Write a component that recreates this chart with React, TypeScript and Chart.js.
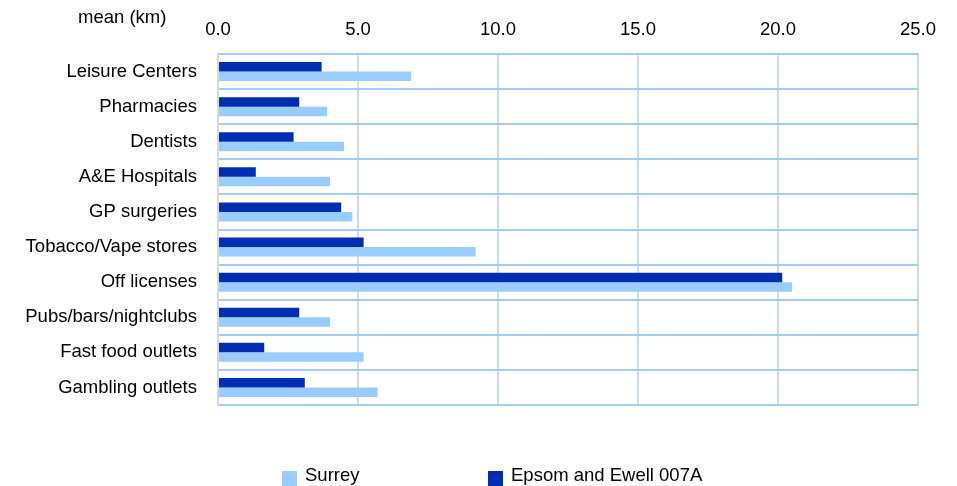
import React, { useEffect, useRef } from "react";
import { Chart, registerables } from "chart.js";

Chart.register(...registerables);

const categories = [
  "Leisure Centers",
  "Pharmacies",
  "Dentists",
  "A&E Hospitals",
  "GP surgeries",
  "Tobacco/Vape stores",
  "Off licenses",
  "Pubs/bars/nightclubs",
  "Fast food outlets",
  "Gambling outlets",
];
const surrey = [6.9, 3.9, 4.5, 4.0, 4.8, 9.2, 20.5, 4.0, 5.2, 5.7];
const epsom = [3.7, 2.9, 2.7, 1.35, 4.4, 5.2, 20.15, 2.9, 1.65, 3.1];
const xTicks = [0, 5, 10, 15, 20, 25];
const axisTitle = "mean (km)";
const seriesNames = ["Surrey", "Epsom and Ewell 007A"];

const LIGHT = "#99ccff";
const DARK = "#002eb2";
const FONT = "'Liberation Sans', Arial, sans-serif";
const FS = 18.5;

export default function App() {
  const ref = useRef<HTMLCanvasElement | null>(null);
  useEffect(() => {
    if (!ref.current) return;
    const chart = new Chart(ref.current, {
      type: "bar",
      data: {
        labels: categories,
        datasets: [
          {
            label: seriesNames[1],
            data: epsom,
            backgroundColor: DARK,
            categoryPercentage: 0.54,
            barPercentage: 1,
          },
          {
            label: seriesNames[0],
            data: surrey,
            backgroundColor: LIGHT,
            categoryPercentage: 0.54,
            barPercentage: 1,
          },
        ],
      },
      options: {
        indexAxis: "y",
        animation: false,
        responsive: true,
        maintainAspectRatio: false,
        layout: { padding: { top: 0, right: 30, bottom: 81, left: 0 } },
        plugins: {
          legend: { display: false },
          tooltip: { enabled: false },
          title: { display: false },
        },
        scales: {
          x: {
            position: "top",
            min: 0,
            max: 25,
            afterBuildTicks: (scale: any) => {
              scale.ticks = xTicks.map((v) => ({ value: v }));
            },
            afterFit: (scale: any) => {
              scale.height = 46;
            },
            ticks: {
              color: "#000",
              font: { family: FONT, size: FS },
              padding: 13,
              callback: (v: any) => Number(v).toFixed(1),
            },
            grid: {
              color: "#c5dcf5",
              lineWidth: 2,
              drawTicks: false,
            },
            border: { display: true, color: "#a0ccfb", width: 2 },
          },
          y: {
            afterFit: (scale: any) => {
              scale.width = 210;
            },
            ticks: {
              color: "#000",
              font: { family: FONT, size: FS },
              padding: 21,
            },
            grid: {
              color: "#a0ccfb",
              lineWidth: 2,
              drawTicks: false,
              offset: true,
            },
            border: { display: true, color: "#d9d9d9", width: 2 },
          },
        },
      },
    });
    return () => chart.destroy();
  }, []);

  const textStyle: React.CSSProperties = {
    position: "absolute",
    fontFamily: FONT,
    fontSize: FS,
    lineHeight: `${FS}px`,
    color: "#000",
    whiteSpace: "nowrap",
  };

  return (
    <div style={{ position: "relative", width: 941, height: 478 }}>
      <canvas ref={ref} />
      <div style={{ ...textStyle, left: 70, top: 0 }}>{axisTitle}</div>
      <div style={{ position: "absolute", left: 274, top: 463, width: 15, height: 15, background: LIGHT }} />
      <div style={{ ...textStyle, left: 297, top: 458 }}>{seriesNames[0]}</div>
      <div style={{ position: "absolute", left: 480, top: 463, width: 15, height: 15, background: DARK }} />
      <div style={{ ...textStyle, left: 503, top: 458 }}>{seriesNames[1]}</div>
    </div>
  );
}
